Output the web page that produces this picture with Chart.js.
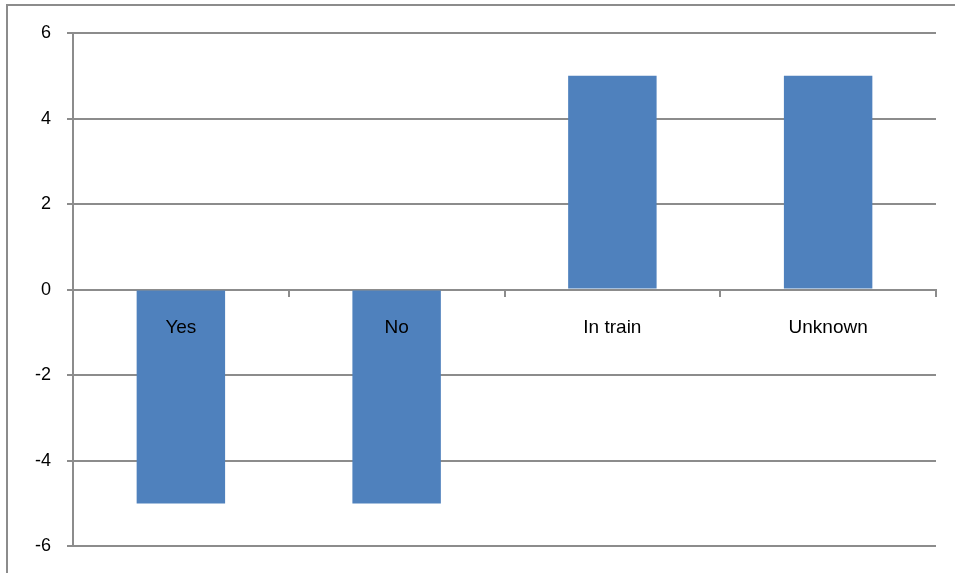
<!DOCTYPE html>
<html>
<head>
<meta charset="utf-8">
<script src="https://cdn.jsdelivr.net/npm/chart.js@4/dist/chart.umd.min.js"></script>
<style>
  html, body { margin: 0; padding: 0; background: #ffffff; overflow: hidden; }
  #wrap { position: relative; width: 955px; height: 573px; }
</style>
</head>
<body>
<div id="wrap"><canvas id="c" width="955" height="573"></canvas></div>
<script>
// Categories and values
const categories = ['Yes', 'No', 'In train', 'Unknown'];
const values = [-5, -5, 5, 5];
const yTicks = [-6, -4, -2, 0, 2, 4, 6];

const gridGray = '#8c8c8c';
const fontFamily = '"Liberation Sans", Arial, sans-serif';

// Outer frame of the chart box
const framePlugin = {
  id: 'frame',
  beforeDraw(chart) {
    const ctx = chart.ctx;
    ctx.save();
    ctx.fillStyle = '#ffffff';
    ctx.fillRect(0, 0, chart.width, chart.height);
    ctx.strokeStyle = gridGray;
    ctx.lineWidth = 2;
    ctx.strokeRect(7, 5, 1200, 1200);
    ctx.restore();
  }
};

new Chart(document.getElementById('c'), {
  type: 'bar',
  data: {
    labels: categories,
    datasets: [{
      data: values,
      backgroundColor: '#4f81bd',
      borderWidth: 0,
      barPercentage: 0.41,
      categoryPercentage: 1.0
    }]
  },
  options: {
    responsive: false,
    animation: false,
    devicePixelRatio: 1,
    layout: { padding: { left: 0, top: 33, right: 19, bottom: 26 } },
    plugins: { legend: { display: false }, tooltip: { enabled: false } },
    scales: {
      x: {
        position: { y: 0 },
        offset: true,
        grid: {
          display: true,
          offset: true,
          drawOnChartArea: false,
          drawTicks: true,
          tickLength: 6,
          color: gridGray,
          lineWidth: 2
        },
        border: { display: true, color: gridGray, width: 2 },
        ticks: {
          z: 1,
          color: '#000000',
          font: { family: fontFamily, size: 19 },
          padding: 21,
          maxRotation: 0
        }
      },
      y: {
        min: -6,
        max: 6,
        afterBuildTicks(scale) {
          scale.ticks = yTicks.map(v => ({ value: v }));
        },
        afterFit(scale) { scale.width = 73; },
        grid: {
          color: gridGray,
          lineWidth: 2,
          tickLength: 6
        },
        border: { display: true, color: gridGray, width: 2 },
        ticks: {
          color: '#000000',
          font: { family: fontFamily, size: 18 },
          padding: 16
        }
      }
    }
  },
  plugins: [framePlugin]
});
</script>
</body>
</html>
